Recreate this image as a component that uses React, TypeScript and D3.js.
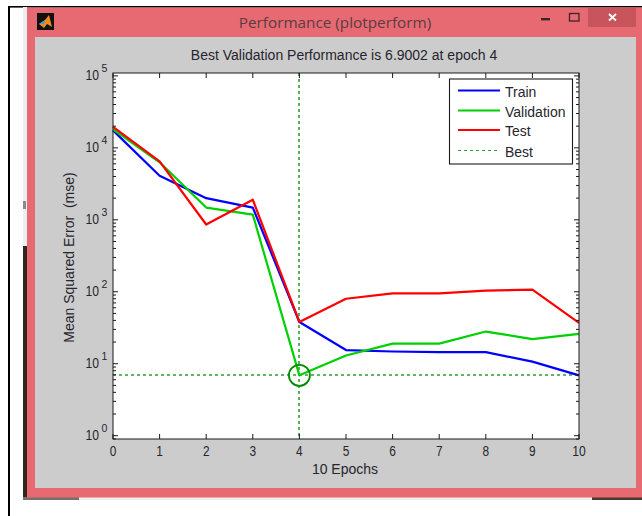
import React from "react";
import * as d3 from "d3";

const epochs = [0, 1, 2, 3, 4, 5, 6, 7, 8, 9, 10];
const train = [17500, 4100, 2000, 1480, 38, 15.5, 14.8, 14.5, 14.5, 10.7, 6.9];
const validation = [18000, 6300, 1480, 1180, 6.9, 13, 19, 19, 28, 22, 26];
const test = [19500, 6500, 860, 1900, 38, 80, 95, 95, 104, 107, 37];
const bestEpoch = 4;
const bestValue = 6.9002;
const yTickExponents = [0, 1, 2, 3, 4, 5];
const legendLabels = ["Train", "Validation", "Test", "Best"];
const legendColors = ["#0000ff", "#00d000", "#ff0000", "#2f9f2f"];

const FONT = "'Liberation Sans', Arial, sans-serif";
const TEXT = "#26262e";

export default function App() {
  const x = d3.scaleLinear().domain([0, 10]).range([113, 579]);
  const y = d3.scaleLog().domain([Math.pow(10, -0.046), Math.pow(10, 5.04)]).range([439, 73]);
  const line = d3
    .line<number>()
    .x((_, i) => x(epochs[i]))
    .y((d) => y(d));
  const [x0, x1] = x.range();
  const [yB, yT] = y.range();

  const minorTicks: number[] = [];
  for (let e = -1; e <= 5; e++) {
    for (let m = 1; m < 10; m++) {
      const v = m * Math.pow(10, e);
      if (v >= y.domain()[0] && v <= y.domain()[1]) minorTicks.push(v);
    }
  }

  const series = [
    { values: train, color: legendColors[0] },
    { values: validation, color: legendColors[1] },
    { values: test, color: legendColors[2] },
  ];

  const lx0 = 449.5, lx1 = 572.5, lyT = 79, lyB = 164;
  const legendY = [90.5, 110.5, 130, 150.5];
  const bestX = Math.round(x(bestEpoch));
  const bestY = Math.round(y(bestValue));

  return (
    <svg
      width={642}
      height={516}
      style={{ position: "fixed", left: 0, top: 0, background: "#fff" }}
      fontFamily={FONT}
    >
      {/* page frame */}
      <rect x={8} y={6} width={634} height={1.6} fill="#000" />
      <rect x={8} y={6} width={2} height={510} fill="#000" />

      {/* backdrop peeking around the window */}
      <rect x={23} y={7} width={4} height={239} fill="#eeeeee" />
      <rect x={23} y={246} width={4} height={252} fill="#33261f" />
      <rect x={23} y={201} width={3} height={8} fill="#8a8a8a" />
      <rect x={23} y={497} width={56} height={3} fill="#77706c" />
      <rect x={79} y={497} width={513} height={3} fill="#eeeeee" />
      <rect x={592} y={497} width={50} height={3} fill="#4c3a30" />

      {/* window */}
      <rect x={27} y={7.5} width={615} height={490} fill="#e76a72" />
      <rect x={35} y={37} width={601} height={451} fill="#cccccc" />

      {/* title bar */}
      <rect x={37} y={13} width={17} height={17} fill="#111" />
      <path d="M39 24 L45 20 L49 15 L52 27 L47 24 L44 28 Z" fill="#ef8a22" />
      <path d="M39 24 L45 20 L44 24 Z" fill="#3aa0c8" />
      <text x={335} y={27.5} textAnchor="middle" fontSize={15.3} fontFamily="'Open Sans', sans-serif" fill="#5a3c42">
        Performance (plotperform)
      </text>
      <rect x={541} y={18} width={9} height={2.4} fill="#3a2628" />
      <rect x={569.5} y={13.5} width={9.5} height={7.5} fill="none" stroke="#3a2628" strokeWidth={1.3} />
      <rect x={588} y={7.5} width={48} height={19.5} fill="#c9555c" />
      <path d="M609 14 L616 20.5 M616 14 L609 20.5" stroke="#fff" strokeWidth={1.8} />

      <text x={344} y={60} textAnchor="middle" fontSize={14} fill={TEXT}>
        Best Validation Performance is 6.9002 at epoch 4
      </text>

      {/* plot */}
      <rect x={x0} y={yT} width={x1 - x0} height={yB - yT} fill="#fff" />

      {/* best guides */}
      <line x1={x0} x2={x1} y1={bestY} y2={bestY} stroke={legendColors[3]} strokeWidth={1.6} strokeDasharray="3 3" />
      <line x1={bestX} x2={bestX} y1={yT} y2={yB} stroke={legendColors[3]} strokeWidth={1.6} strokeDasharray="3 3" />

      {series.map((s, i) => (
        <path key={i} d={line(s.values) ?? ""} fill="none" stroke={s.color} strokeWidth={2.2} strokeLinejoin="round" />
      ))}

      <circle cx={x(bestEpoch)} cy={y(bestValue)} r={10.5} fill="none" stroke="#008a00" strokeWidth={1.8} />

      {/* axes box */}
      <rect x={x0} y={yT} width={x1 - x0} height={yB - yT} fill="none" stroke="#1a1a1a" strokeWidth={1} />

      {/* x ticks */}
      {epochs.map((e) => (
        <g key={e}>
          <line x1={x(e)} x2={x(e)} y1={yB} y2={yB - 5} stroke="#1a1a1a" />
          <line x1={x(e)} x2={x(e)} y1={yT} y2={yT + 5} stroke="#1a1a1a" />
          <text x={x(e)} y={456} textAnchor="middle" fontSize={14} fill={TEXT} textLength={e === 10 ? 13.5 : 6.6} lengthAdjust="spacingAndGlyphs">
            {e}
          </text>
        </g>
      ))}

      {/* y ticks */}
      {minorTicks.map((v) => {
        const major = yTickExponents.some((e) => Math.abs(Math.pow(10, e) - v) < 1e-6 * v);
        const len = major ? 5 : 3;
        return (
          <g key={v}>
            <line x1={x0} x2={x0 + len} y1={y(v)} y2={y(v)} stroke="#1a1a1a" />
            <line x1={x1} x2={x1 - len} y1={y(v)} y2={y(v)} stroke="#1a1a1a" />
          </g>
        );
      })}
      {yTickExponents.map((e) => {
        const yy = y(Math.pow(10, e));
        return (
          <g key={e}>
            <text x={85.5} y={yy + 4} fontSize={14} fill={TEXT} textLength={13.5} lengthAdjust="spacingAndGlyphs">
              10
            </text>
            <text x={101.5} y={yy - 3.5} fontSize={10.5} fill={TEXT}>
              {e}
            </text>
          </g>
        );
      })}

      <text x={345} y={474} textAnchor="middle" fontSize={14} fill={TEXT}>
        10 Epochs
      </text>
      <text
        transform="translate(74,257.5) rotate(-90)"
        textAnchor="middle"
        fontSize={14}
        fill={TEXT}
        style={{ whiteSpace: "pre" }}
      >
        Mean Squared Error  (mse)
      </text>

      {/* legend */}
      <rect x={lx0} y={lyT} width={lx1 - lx0} height={lyB - lyT} fill="#fff" stroke="#1a1a1a" strokeWidth={1.1} />
      {legendLabels.map((label, i) => (
        <g key={label}>
          <line
            x1={458}
            x2={500}
            y1={legendY[i]}
            y2={legendY[i]}
            stroke={legendColors[i]}
            strokeWidth={i === 3 ? 1.2 : 2.2}
            strokeDasharray={i === 3 ? "3 3" : undefined}
          />
          <text x={505} y={legendY[i] + 6} fontSize={14} fill={TEXT}>
            {label}
          </text>
        </g>
      ))}
    </svg>
  );
}
